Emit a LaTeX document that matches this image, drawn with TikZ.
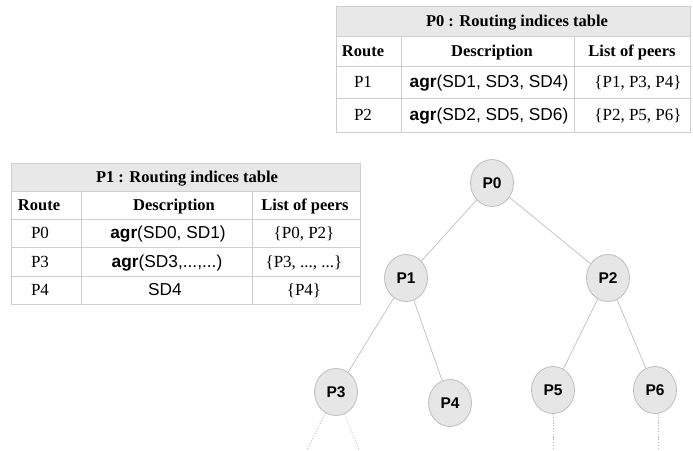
\documentclass[tikz,border=0pt]{standalone}
\usepackage{fontspec}
\setmainfont{Liberation Serif}
\newfontfamily\arialf{Liberation Sans}
\usetikzlibrary{shapes.geometric}
\definecolor{tline}{HTML}{CFCFCF}
\definecolor{tfill}{HTML}{E8E8E8}
\definecolor{nfill}{HTML}{E6E6E6}
\definecolor{nline}{HTML}{BDBDBD}
\definecolor{eline}{HTML}{BEBEBE}
\tikzset{
  cell/.style={inner sep=0pt, text height=12pt, text depth=1pt, font=\fontsize{17}{20}\selectfont},
  hcell/.style={inner sep=0pt, text height=12pt, text depth=1pt, font=\fontsize{16.5}{20}\selectfont\bfseries},
  acell/.style={inner sep=0pt, text height=12pt, text depth=1pt, font=\fontsize{17.3}{20}\selectfont\arialf},
  grid/.style={draw=tline, line width=0.8pt},
  treenode/.style={ellipse, draw=nline, fill=nfill, line width=0.8pt, minimum width=43pt, minimum height=47pt, inner sep=0pt, font=\fontsize{15.5}{18}\selectfont\arialf\bfseries},
  tedge/.style={draw=eline, line width=0.7pt},
  dedge/.style={draw=eline, line width=0.7pt, dash pattern=on 1.2pt off 1.6pt}
}
\newcommand{\agrb}{\textbf{agr}}
\begin{document}
\begin{tikzpicture}[x=1pt,y=-1pt]
\useasboundingbox (0,0) rectangle (693,450);
% ---------- top table (P0) ----------
\fill[tfill] (336,6) rectangle (690,36);
\draw[grid] (336,6) rectangle (690,132);
\draw[grid] (336,36) -- (690,36);
\draw[grid] (336,66) -- (690,66);
\draw[grid] (336,98) -- (690,98);
\draw[grid] (401,36) -- (401,132);
\draw[grid] (574,36) -- (574,132);
\node[hcell] (t0title) at (517,21) {P0 : Routing indices table};
\node[hcell] (t0h1) at (363,51) {Route};
\node[hcell] (t0h2) at (492,51) {Description};
\node[hcell] (t0h3) at (632,51) {List of peers};
\node[cell] (t0r1a) at (363,82) {P1};
\node[acell] (t0r1b) at (489,82) {\agrb(SD1, SD3, SD4)};
\node[cell] (t0r1c) at (638,82) {\{P1, P3, P4\}};
\node[cell] (t0r2a) at (363,115) {P2};
\node[acell] (t0r2b) at (489,115) {\agrb(SD2, SD5, SD6)};
\node[cell] (t0r2c) at (638,115) {\{P2, P5, P6\}};
% ---------- left table (P1) ----------
\fill[tfill] (11,163) rectangle (360,191);
\draw[grid] (11,163) rectangle (360,304);
\draw[grid] (11,191) -- (360,191);
\draw[grid] (11,219) -- (360,219);
\draw[grid] (11,247.5) -- (360,247.5);
\draw[grid] (11,276) -- (360,276);
\draw[grid] (81,191) -- (81,304);
\draw[grid] (252,191) -- (252,304);
\node[hcell] (t1title) at (187,177) {P1 : Routing indices table};
\node[hcell] (t1h1) at (39,205) {Route};
\node[hcell] (t1h2) at (174,205) {Description};
\node[hcell] (t1h3) at (305,205) {List of peers};
\node[cell] (t1r1a) at (40,233) {P0};
\node[acell] (t1r1b) at (168,233) {\agrb(SD0, SD1)};
\node[cell] (t1r1c) at (304,233) {\{P0, P2\}};
\node[cell] (t1r2a) at (40,262) {P3};
\node[acell] (t1r2b) at (167,262) {\agrb(SD3,...,...)};
\node[cell] (t1r2c) at (304,262) {\{P3, ..., ...\}};
\node[cell] (t1r3a) at (40,290) {P4};
\node[acell] (t1r3b) at (165,290) {SD4};
\node[cell] (t1r3c) at (304,290) {\{P4\}};
% ---------- tree ----------
\node[treenode] (P0) at (492,183) {P0};
\node[treenode] (P1) at (406,278) {P1};
\node[treenode] (P2) at (608,278) {P2};
\node[treenode] (P3) at (336,392) {P3};
\node[treenode] (P4) at (450,403) {P4};
\node[treenode] (P5) at (553,390) {P5};
\node[treenode] (P6) at (655,390) {P6};
\coordinate (d3a) at (307,450);
\coordinate (d3b) at (359,450);
\coordinate (d5) at (553,450);
\coordinate (d6) at (658,450);
\draw[tedge] (P0) -- (P1);
\draw[tedge] (P0) -- (P2);
\draw[tedge] (P1) -- (P3);
\draw[tedge] (P1) -- (P4);
\draw[tedge] (P2) -- (P5);
\draw[tedge] (P2) -- (P6);
\draw[dedge] (P3) -- (d3a);
\draw[dedge] (P3) -- (d3b);
\draw[dedge] (P5.south) -- (d5);
\draw[dedge] (P6.south -| d6) -- (d6);
\end{tikzpicture}
\end{document}
